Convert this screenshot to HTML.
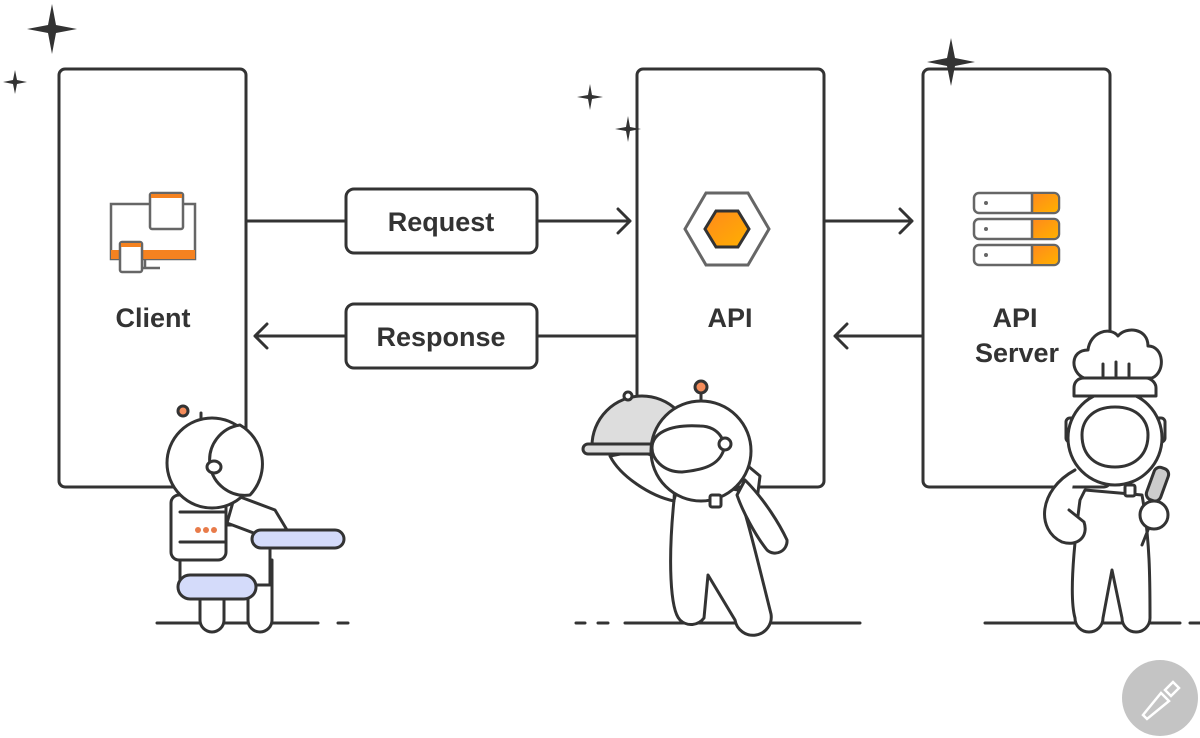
<!DOCTYPE html>
<html><head><style>body{margin:0;background:#fff}svg{display:block}</style></head><body>
<svg width="1200" height="738" viewBox="0 0 1200 738" xmlns="http://www.w3.org/2000/svg">
<defs><linearGradient id="og" x1="0" y1="0" x2="1" y2="1"><stop offset="0" stop-color="#ff8a1c"/><stop offset="1" stop-color="#ffb000"/></linearGradient></defs>
<g fill="none" stroke="#333" stroke-width="3" stroke-linecap="round" stroke-linejoin="round">
<rect x="59" y="69" width="187" height="418" rx="6" fill="#fff"/>
<rect x="637" y="69" width="187" height="418" rx="6" fill="#fff"/>
<rect x="923" y="69" width="187" height="418" rx="6" fill="#fff"/>
<rect x="346" y="189" width="191" height="64" rx="8"/>
<rect x="346" y="304" width="191" height="64" rx="8"/>
<path d="M246 221H346M537 221H630M618 209L630 221L618 233"/>
<path d="M637 336H537M346 336H255M267 324L255 336L267 348"/>
<path d="M824 221H912M900 209L912 221L900 233"/>
<path d="M923 336H835M847 324L835 336L847 348"/>
<path d="M157 623H318M338 623H348M576 623H585M598 623H608M625 623H860M985 623H1180M1190 623H1200"/>
</g>
<g fill="#333">
<path d="M52 4L56 25L77 29L56 33L52 54L48 33L27 29L48 25Z"/>
<path d="M15 70L17 80L27 82L17 84L15 94L13 84L3 82L13 80Z"/>
<path d="M590 84L592 95L603 97L592 99L590 110L588 99L577 97L588 95Z"/>
<path d="M628 116L630 127L641 129L630 131L628 142L626 131L615 129L626 127Z"/>
<path d="M951 38L955 58L975 62L955 66L951 86L947 66L927 62L947 58Z"/>
</g>
<g font-family="Liberation Sans, sans-serif" font-weight="bold" fill="#333" text-anchor="middle" font-size="27">
<text x="441" y="231">Request</text>
<text x="441" y="346">Response</text>
<text x="153" y="327">Client</text>
<text x="730" y="327">API</text>
<text x="1015" y="327">API</text>
<text x="1017" y="362">Server</text>
</g>
<g stroke="#666" stroke-width="2.5" fill="#fff">
<rect x="111" y="204" width="84" height="55"/>
<rect x="111" y="250" width="84" height="9" fill="#f58220" stroke="none"/>
<path d="M145 259V268M138 268H160" fill="none"/>
<rect x="150" y="193" width="33" height="36" rx="2"/>
<rect x="151" y="194" width="31" height="4" fill="#f58220" stroke="none"/>
<rect x="120" y="242" width="22" height="30" rx="2"/>
<rect x="121" y="243" width="20" height="4" fill="#f58220" stroke="none"/>
</g>
<polygon points="706,193 748,193 769,229 748,265 706,265 685,229" fill="#fff" stroke="#666" stroke-width="3"/>
<polygon points="716,211 738,211 749,229 738,247 716,247 705,229" fill="url(#og)" stroke="#333" stroke-width="3"/>
<g stroke="#666" stroke-width="2.5">
<rect x="974" y="193" width="85" height="20" rx="5" fill="#fff"/>
<rect x="974" y="219" width="85" height="20" rx="5" fill="#fff"/>
<rect x="974" y="245" width="85" height="20" rx="5" fill="#fff"/>
<path d="M1032 194h22a4 4 0 0 1 4 4v10a4 4 0 0 1-4 4h-22Z" fill="url(#og)" stroke="none"/>
<path d="M1032 220h22a4 4 0 0 1 4 4v10a4 4 0 0 1-4 4h-22Z" fill="url(#og)" stroke="none"/>
<path d="M1032 246h22a4 4 0 0 1 4 4v10a4 4 0 0 1-4 4h-22Z" fill="url(#og)" stroke="none"/>
<path d="M1032 193v20M1032 219v20M1032 245v20"/>
</g>
<g fill="#666"><circle cx="986" cy="203" r="2"/><circle cx="986" cy="229" r="2"/><circle cx="986" cy="255" r="2"/></g>
<!-- astronaut 1 -->
<g stroke="#333" stroke-width="3" fill="#fff" stroke-linejoin="round" stroke-linecap="round">
<path d="M200 560V620a12 12 0 0 0 24 0V560Z"/>
<path d="M248 560V620a12 12 0 0 0 24 0V560Z"/>
<path d="M180 555V525h90v60h-90Z"/>
<path d="M235 495l40 15l12 20l-20 8l-40-15Z"/>
<rect x="171" y="495" width="55" height="65" rx="8"/>
<rect x="178" y="575" width="78" height="24" rx="12" fill="#d4dbfa"/>
<rect x="252" y="530" width="92" height="18" rx="9" fill="#d4dbfa"/>
<path d="M180 512H226M180 542H226" fill="none"/>
<circle cx="212" cy="463" r="45"/>
<path d="M240 425a30 30 0 0 0 10 70a45 45 0 0 0 -10 -70Z"/>
<ellipse cx="214" cy="467" rx="7" ry="6"/>
<path d="M201 418V413" fill="none"/>
<circle cx="183" cy="411" r="5" fill="#f58c5a"/>
</g>
<g fill="#e87b4a"><circle cx="198" cy="530" r="3"/><circle cx="206" cy="530" r="3"/><circle cx="214" cy="530" r="3"/></g>
<!-- astronaut 2 -->
<g stroke="#333" stroke-width="3" fill="#fff" stroke-linejoin="round" stroke-linecap="round">
<path d="M674 500C668 560 670 610 680 620a16 16 0 0 0 24 -2L708 575L735 620a16 16 0 0 0 36 -6C760 570 748 520 738 490L680 480Z"/>
<path d="M740 470l8 -4l12 10l-5 40Z"/>
<path d="M745 480c20 20 35 45 42 60a12 12 0 0 1 -20 10c-12 -15 -25 -40 -30 -55Z"/>
<path d="M610 456c10 20 40 40 64 45l2 -40l-40 -10Z"/>
<path d="M592 446a50 50 0 0 1 100 0Z" fill="#ddd"/>
<rect x="583" y="444" width="110" height="10" rx="5" fill="#ddd"/>
<circle cx="628" cy="396" r="4"/>
<circle cx="701" cy="451" r="50"/>
<path d="M700 426c20 0 28 18 22 28c-6 12 -20 16 -40 18c-20 0 -30 -14 -30 -24c0 -14 16 -24 48 -22Z"/>
<circle cx="725" cy="444" r="6"/>
<path d="M701 401V394" fill="none"/>
<circle cx="701" cy="387" r="6" fill="#f58c5a"/>
<rect x="710" y="495" width="11" height="12" rx="2"/>
</g>
<!-- astronaut 3 (chef) -->
<g stroke="#333" stroke-width="3" fill="#fff" stroke-linejoin="round" stroke-linecap="round">
<path d="M1080 500C1072 560 1070 600 1075 618a14 14 0 0 0 28 0L1112 570L1122 618a14 14 0 0 0 28 0C1150 580 1150 540 1142 495L1085 490Z"/>
<path d="M1075 470C1038 490 1036 530 1062 542c15 5 27 -5 22 -20l-15 -12"/>
<rect x="1066" y="418" width="11" height="24" rx="4"/>
<rect x="1154" y="418" width="11" height="24" rx="4"/>
<circle cx="1115" cy="438" r="47"/>
<path d="M1115 407c24 0 33 15 33 28c0 22 -16 32 -33 32c-18 0 -33 -10 -33 -32c0 -13 9 -28 33 -28Z"/>
<rect x="1125" y="485" width="10" height="11" rx="2"/>
<path d="M1142 545l10 -25" fill="none"/>
<rect x="1150" y="467" width="15" height="34" rx="6" transform="rotate(20 1157 484)" fill="#ccc"/>
<circle cx="1154" cy="515" r="14"/>
<path d="M1074 396h82v-8c0 -6 -6 -10 -10 -10h-62c-6 0 -10 4 -10 10Z"/>
<path d="M1084 378c-14 -6 -14 -28 4 -28c2 -18 22 -24 30 -14c8 -10 30 -8 30 10c16 0 18 26 4 32Z"/>
<path d="M1103 364v12M1116 362v14M1129 364v12" fill="none"/>
</g>
<circle cx="1160" cy="698" r="38" fill="#c4c4c4"/>
<path d="M1143 715l18 -22l8 8l-22 18Z M1165 690l8 -8l6 6l-8 8Z" fill="none" stroke="#fff" stroke-width="2.5"/>
</svg>
</body></html>
